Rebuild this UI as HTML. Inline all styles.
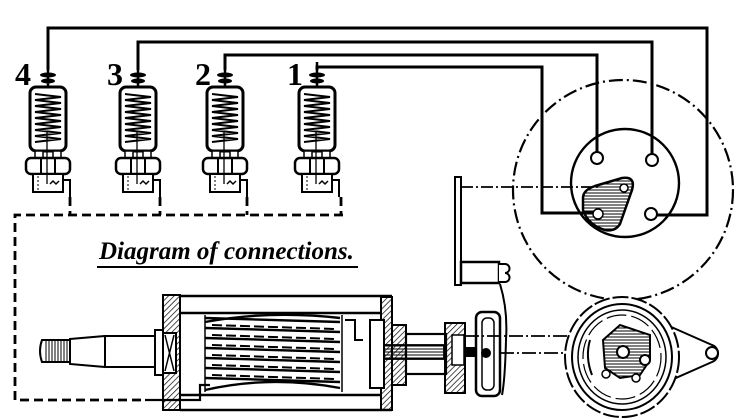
<!DOCTYPE html>
<html><head><meta charset="utf-8"><style>
html,body{margin:0;padding:0;background:#fff;}
svg{display:block;}
</style></head><body>
<svg width="739" height="418" viewBox="0 0 739 418" xmlns="http://www.w3.org/2000/svg">
<defs>
<pattern id="hatch" width="4" height="4" patternUnits="userSpaceOnUse" patternTransform="rotate(45)">
<line x1="0" y1="0" x2="0" y2="4" stroke="#000" stroke-width="1.4"/>
</pattern>
<pattern id="hz" width="4" height="3" patternUnits="userSpaceOnUse">
<line x1="0" y1="1" x2="4" y2="1" stroke="#000" stroke-width="1"/>
</pattern>
<g id="plug">
<line x1="0" y1="-10" x2="0" y2="20" stroke="#000" stroke-width="2.5"/>
<ellipse cx="0" cy="3" rx="8" ry="2.5" fill="#000"/>
<ellipse cx="0" cy="9" rx="7" ry="2.5" fill="#000"/>
<rect x="-18" y="15" width="36" height="64" rx="6" fill="#fff" stroke="#000" stroke-width="3"/>
<path d="M-13 22 L13 25 L-13 28 L13 31 L-13 34 L13 37 L-13 40 L13 43 L-13 46 L13 49 L-13 52 L13 55 L-13 58 L13 61 L-13 64 L13 67 L-13 70" fill="none" stroke="#000" stroke-width="2"/>
<rect x="-13" y="79" width="8" height="7" fill="#fff" stroke="#000" stroke-width="1.5"/>
<rect x="5" y="79" width="8" height="7" fill="#fff" stroke="#000" stroke-width="1.5"/>
<rect x="-22" y="86" width="44" height="16" rx="5" fill="#fff" stroke="#000" stroke-width="2.5"/>
<line x1="-7" y1="86" x2="-7" y2="102" stroke="#000" stroke-width="2"/>
<line x1="7" y1="86" x2="7" y2="102" stroke="#000" stroke-width="2"/>
<rect x="-15" y="102" width="30" height="18" fill="#fff" stroke="#000" stroke-width="2"/>
<line x1="-10" y1="104" x2="-10" y2="118" stroke="#000" stroke-width="1" stroke-dasharray="2 2"/>
<line x1="-1" y1="60" x2="-1" y2="112" stroke="#000" stroke-width="1.3"/>
<path d="M2 112 l3 -3 l3 3 l3 -3" fill="none" stroke="#000" stroke-width="1.5"/>
<path d="M15 108 H22 V125" fill="none" stroke="#000" stroke-width="2"/>
</g>
</defs>

<g fill="none" stroke="#000" stroke-width="3">
<path d="M48 70 V28 H707 V215 H654"/>
<path d="M138 70 V42 H652 V155"/>
<path d="M225 70 V55 H597 V155"/>
<path d="M317 70 V67 H542 V213 H600"/>
</g>

<use href="#plug" x="48" y="72"/>
<use href="#plug" x="138" y="72"/>
<use href="#plug" x="225" y="72"/>
<use href="#plug" x="317" y="72"/>

<g font-family="Liberation Serif, serif" font-weight="bold" font-size="32">
<text x="15" y="85">4</text>
<text x="107" y="85">3</text>
<text x="195" y="85">2</text>
<text x="287" y="85">1</text>
</g>

<g fill="none" stroke="#000" stroke-width="2.8" stroke-dasharray="9 5">
<path d="M70 197 V215"/>
<path d="M160 197 V215"/>
<path d="M247 197 V215"/>
<path d="M341 197 V215"/>
<path d="M343 215 H15 V400 H145"/>
</g>

<text x="99" y="259" font-family="Liberation Serif, serif" font-style="italic" font-weight="bold" font-size="25">Diagram of connections.</text>
<line x1="97" y1="267" x2="358" y2="267" stroke="#000" stroke-width="2"/>

<circle cx="623" cy="190" r="110" fill="none" stroke="#000" stroke-width="2.2" stroke-dasharray="14 4 2 4"/>
<circle cx="625" cy="183" r="54" fill="none" stroke="#000" stroke-width="2.4"/>
<g fill="#fff" stroke="#000" stroke-width="2">
<circle cx="597" cy="158" r="6"/>
<circle cx="652" cy="160" r="6"/>
<circle cx="651" cy="214" r="6"/>
</g>
<path d="M583 198 Q583 190 595 186 L622 178 Q636 176 632 190 L620 224 Q615 232 605 230 Q588 225 583 210 Z" fill="url(#hz)" stroke="#000" stroke-width="2.5"/>
<circle cx="624" cy="188" r="4" fill="#fff" stroke="#000" stroke-width="1.5"/>
<circle cx="598" cy="214" r="5" fill="#fff" stroke="#000" stroke-width="1.5"/>
<rect x="455" y="177" width="6" height="108" fill="#fff" stroke="#000" stroke-width="2"/>
<line x1="461" y1="187" x2="600" y2="187" stroke="#000" stroke-width="1.8" stroke-dasharray="12 3 2 3"/>
<rect x="461" y="262" width="38" height="21" fill="#fff" stroke="#000" stroke-width="2.5"/>
<path d="M499 264 h6 a4 4 0 0 1 0 9 a4 4 0 0 1 0 9 h-6" fill="#fff" stroke="#000" stroke-width="2"/>
<path d="M500 284 Q508 310 506 340 Q505 380 502 395" fill="none" stroke="#000" stroke-width="2"/>

<g fill="#fff" stroke="#000" stroke-width="2">
<path d="M42 340 h28 v22 h-28 q-4 -11 0 -22z"/>
<path d="M70 339 L105 336 V367 L70 364 Z"/>
<rect x="105" y="336" width="50" height="31"/>
<rect x="155" y="330" width="8" height="45"/>
</g>
<g stroke="#000" stroke-width="1">
<line x1="46" y1="341" x2="46" y2="361"/><line x1="49" y1="341" x2="49" y2="361"/><line x1="52" y1="341" x2="52" y2="361"/><line x1="55" y1="341" x2="55" y2="361"/><line x1="58" y1="341" x2="58" y2="361"/><line x1="61" y1="341" x2="61" y2="361"/><line x1="64" y1="341" x2="64" y2="361"/><line x1="67" y1="341" x2="67" y2="361"/>
</g>
<rect x="163" y="295" width="17" height="115" fill="url(#hatch)" stroke="#000" stroke-width="2"/>
<rect x="163" y="333" width="13" height="40" fill="#fff" stroke="#000" stroke-width="2"/>
<path d="M165 335 L174 371 M174 335 L165 371" stroke="#000" stroke-width="1.5"/>
<path d="M180 296 H392 M180 410 H392 M180 313 H382 M180 395 H382" fill="none" stroke="#000" stroke-width="2.4"/>
<rect x="381" y="297" width="11" height="113" fill="url(#hatch)" stroke="#000" stroke-width="2"/>
<line x1="205" y1="315" x2="205" y2="392" stroke="#000" stroke-width="1.5"/>
<line x1="342" y1="315" x2="342" y2="392" stroke="#000" stroke-width="1.5"/>
<g fill="none" stroke="#000" stroke-width="2.4">
<path d="M205 318 L340 322 M205 328 L340 332 M205 338 L340 342 M205 348 L340 352 M205 358 L340 362 M205 368 L340 372 M205 378 L340 382"/>
<path d="M205 322 Q270 310 340 318 M205 390 Q270 375 340 388" />
</g>
<g fill="none" stroke="#000" stroke-width="2" stroke-dasharray="10 4">
<path d="M212 325 L335 329 M212 335 L335 339 M212 345 L335 349 M212 355 L335 359 M212 365 L335 369 M212 375 L335 379"/>
</g>
<path d="M145 400 H200 V385 H210" fill="none" stroke="#000" stroke-width="2.2"/>
<path d="M345 320 h10 v20 h8" fill="none" stroke="#000" stroke-width="2"/>
<rect x="392" y="325" width="14" height="60" fill="url(#hatch)" stroke="#000" stroke-width="2"/>
<rect x="406" y="334" width="40" height="40" fill="#fff" stroke="#000" stroke-width="2.2"/>
<rect x="370" y="320" width="14" height="68" fill="#fff" stroke="#000" stroke-width="2"/>
<rect x="384" y="345" width="60" height="14" fill="url(#hz)" stroke="#000" stroke-width="1.8"/>
<rect x="445" y="323" width="20" height="70" fill="url(#hatch)" stroke="#000" stroke-width="2"/>
<rect x="452" y="335" width="12" height="30" fill="#fff" stroke="#000" stroke-width="1.5"/>
<rect x="465" y="347" width="15" height="10" fill="#000"/>
<rect x="476" y="312" width="24" height="84" rx="6" fill="#fff" stroke="#000" stroke-width="2.5"/>
<rect x="482" y="318" width="12" height="72" rx="5" fill="none" stroke="#000" stroke-width="1.5"/>
<circle cx="486" cy="353" r="5" fill="#000"/>
<line x1="465" y1="336" x2="640" y2="336" stroke="#000" stroke-width="1.8" stroke-dasharray="14 3 2 3"/>
<line x1="500" y1="353" x2="612" y2="353" stroke="#000" stroke-width="1.8" stroke-dasharray="14 3 2 3"/>
<path d="M660 322 L712 345 A9 9 0 0 1 712 362 L660 385 Z" fill="#fff" stroke="#000" stroke-width="2"/>
<circle cx="712" cy="353" r="6" fill="#fff" stroke="#000" stroke-width="2"/>
<ellipse cx="622" cy="357" rx="57" ry="60" fill="#fff" stroke="#000" stroke-width="2" stroke-dasharray="16 3"/>
<ellipse cx="622" cy="357" rx="50" ry="53" fill="none" stroke="#000" stroke-width="2"/>
<ellipse cx="622" cy="357" rx="44" ry="47" fill="none" stroke="#000" stroke-width="1.5"/>
<ellipse cx="622" cy="357" rx="39" ry="42" fill="none" stroke="#000" stroke-width="1.2" stroke-dasharray="20 5"/>
<path d="M603 340 L620 325 L650 335 L650 360 L640 375 L620 378 L605 368 Z" fill="url(#hz)" stroke="#000" stroke-width="2"/>
<circle cx="623" cy="352" r="6" fill="#fff" stroke="#000" stroke-width="2"/>
<circle cx="645" cy="360" r="5" fill="#fff" stroke="#000" stroke-width="2"/>
<circle cx="606" cy="374" r="4" fill="#fff" stroke="#000" stroke-width="1.5"/>
<circle cx="636" cy="378" r="4" fill="#fff" stroke="#000" stroke-width="1.5"/>
<path d="M590 340 Q585 357 592 375" fill="none" stroke="#000" stroke-width="2"/>
</svg>
</body></html>
